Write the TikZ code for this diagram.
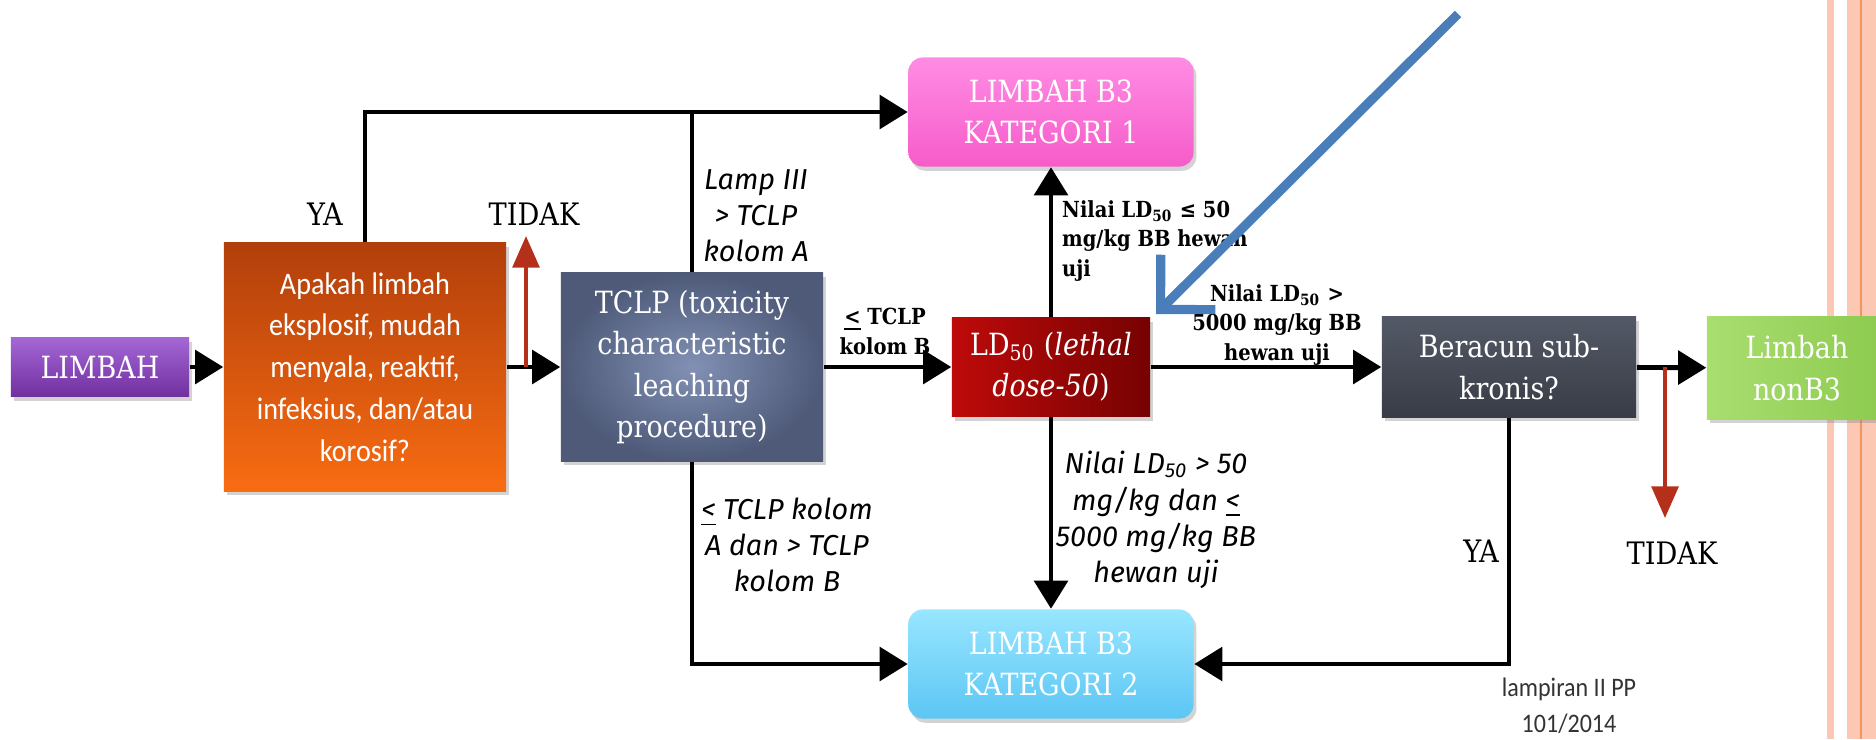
\documentclass[tikz,border=0pt]{standalone}
\usepackage{fontspec}
\usetikzlibrary{arrows.meta,shadows,positioning}

\newfontfamily\boxfont{DejaVu Serif}[FakeStretch=0.88]
\newfontfamily\calfont{Carlito}[FakeStretch=0.9]
\newfontfamily\handfont{Fira Sans}

\definecolor{limPurple}{HTML}{7030A0}
\definecolor{limPurpleLt}{HTML}{A566D6}
\definecolor{askDark}{HTML}{B23F0B}
\definecolor{askLight}{HTML}{F86C12}
\definecolor{tclpOut}{HTML}{4E5A78}
\definecolor{tclpIn}{HTML}{8190B4}
\definecolor{ldLeft}{HTML}{BE0A0A}
\definecolor{ldRight}{HTML}{760202}
\definecolor{katPink}{HTML}{F65CC9}
\definecolor{katPinkLt}{HTML}{FF8CE4}
\definecolor{katBlue}{HTML}{5CC6F4}
\definecolor{katBlueLt}{HTML}{98E6FF}
\definecolor{subGray}{HTML}{383C46}
\definecolor{subGrayLt}{HTML}{535966}
\definecolor{nonGreen}{HTML}{8CCA4E}
\definecolor{nonGreenLt}{HTML}{A9DE70}
\definecolor{noRed}{HTML}{B5301B}
\definecolor{ptrBlue}{HTML}{4A7EBB}
\definecolor{stripeFill}{HTML}{FCC8B3}
\definecolor{stripeLine}{HTML}{F2945E}

\tikzset{
    fc box/.style={align=center, text=white, inner sep=2pt,
                   font=\boxfont\fontsize{8.7}{11.8}\selectfont,
                   drop shadow={opacity=0.35, shadow xshift=0.8pt,
                                shadow yshift=-1.2pt}},
    limbah box/.style={fc box, minimum width=1.78cm, minimum height=0.59cm,
                       top color=limPurpleLt, bottom color=limPurple},
    ask box/.style={fc box, minimum width=2.82cm, minimum height=2.48cm,
                    top color=askDark, bottom color=askLight,
                    font=\calfont\fontsize{8.9}{11.9}\selectfont},
    tclp box/.style={fc box, minimum width=2.62cm, minimum height=1.88cm,
                     inner color=tclpIn, outer color=tclpOut},
    ld box/.style={fc box, minimum width=1.98cm, minimum height=0.99cm,
                   left color=ldLeft, right color=ldRight},
    kat box/.style={fc box, minimum width=2.85cm, minimum height=1.09cm,
                    rounded corners=4pt},
    sub box/.style={fc box, minimum width=2.54cm, minimum height=1.00cm,
                    top color=subGrayLt, bottom color=subGray},
    non box/.style={fc box, minimum width=1.80cm, minimum height=1.02cm,
                    left color=nonGreenLt, right color=nonGreen},
    fc arrow/.style={-{Triangle[length=8pt, width=9.5pt]}, line width=1.4pt},
    fc line/.style={line width=1.4pt},
    fc no/.style={-{Triangle[length=9pt, width=7.6pt]}, line width=1.1pt,
                  noRed},
    fc pointer/.style={-{Straight Barb[length=11pt, width=22pt]},
                       line width=2.6pt, ptrBlue},
    fc yn/.style={font=\boxfont\fontsize{8.8}{10}\selectfont},
    fc cond/.style={align=center, inner sep=1pt,
                    font=\boxfont\bfseries\fontsize{6.3}{8.5}\selectfont},
    fc hand/.style={align=center, inner sep=1pt,
                    font=\handfont\itshape\fontsize{8.2}{10.3}\selectfont},
    fc note/.style={align=center, inner sep=0pt, text=black!80,
                    font=\calfont\fontsize{7.6}{10.2}\selectfont},
}

\begin{document}
\begin{tikzpicture}[x=0.01cm, y=-0.01cm]
    \useasboundingbox (0,0) rectangle (1876,739);
    % Slide border stripes
    \fill[stripeFill] (1827,0) rectangle (1834,739);
    \fill[stripeFill] (1847,0) rectangle (1876,739);
    \draw[stripeLine, line width=0.6pt] (1861,0) -- (1861,739);

    % Main row
    \node[limbah box] (limbah) at (100, 367) {LIMBAH};
    \node[ask box] (ask) at (365, 367)
          {Apakah limbah\\eksplosif, mudah\\menyala, reaktif,\\infeksius, dan/atau\\korosif?};
    \node[tclp box] (tclp) at (692, 367)
          {TCLP (toxicity\\characteristic\\leaching\\procedure)};
    \node[ld box] (ld) at (1051, 367)
          {LD\textsubscript{50} (\textit{lethal}\\\textit{dose-50})};
    \node[sub box] (sub) at (1509, 367) {Beracun sub-\\kronis?};
    \node[non box] (non) at (1797, 368) {Limbah\\nonB3};
    % Category boxes
    \node[kat box, top color=katPinkLt, bottom color=katPink] (kat1)
          at (1051, 112) {LIMBAH B3\\KATEGORI 1};
    \node[kat box, top color=katBlueLt, bottom color=katBlue] (kat2)
          at (1051, 664) {LIMBAH B3\\KATEGORI 2};

    % Connectors
    \draw[fc arrow] (limbah) -- (ask);
    \draw[fc arrow] (ask.north) |- (kat1);
    \draw[fc arrow] (ask) -- (tclp);
    \draw[fc line] (tclp.north) -- (tclp.north |- kat1.west);
    \draw[fc arrow] (tclp) -- (ld);
    \draw[fc arrow] (tclp.south) |- (kat2);
    \draw[fc arrow] (ld) -- (kat1);
    \draw[fc arrow] (ld) -- (kat2);
    \draw[fc arrow] (ld) -- (sub);
    \draw[fc arrow] (sub) -- (non);
    \draw[fc arrow] (sub.south) |- (kat2);

    % TIDAK branches
    \coordinate (no1 base) at (526, 367);
    \coordinate (no1 tip) at (526, 236);
    \draw[fc no] (no1 base) -- (no1 tip);
    \coordinate (no2 base) at (1665, 367);
    \coordinate (no2 tip) at (1665, 518);
    \draw[fc no] (no2 base) -- (no2 tip);

    % Labels
    \node[fc yn] (ya1) at (325, 214) {YA};
    \node[fc yn] (tidak1) at (534, 214) {TIDAK};
    \node[fc hand] (lampA) at (756, 216) {Lamp III\\> TCLP\\kolom A};
    \node[fc cond] (kolB) at (885, 331) {\underline{<} TCLP\\kolom B};
    \node[fc cond, align=left, anchor=west] (le50) at (1058, 241)
          {Nilai LD\textsubscript{50} ≤ 50\\mg/kg BB hewan\\uji};
    \node[fc cond] (gt5000) at (1277, 325)
          {Nilai LD\textsubscript{50} >\\5000 mg/kg BB\\hewan uji};
    \node[fc hand] (mid50) at (1156, 520)
          {Nilai LD\textsubscript{50} > 50\\mg/kg dan \underline{<}\\5000 mg/kg BB\\hewan uji};
    \node[fc hand] (kolAB) at (787, 545)
          {\underline{<} TCLP kolom\\A dan > TCLP\\kolom B};
    \node[fc yn] (ya2) at (1481, 551) {YA};
    \node[fc yn] (tidak2) at (1672, 553) {TIDAK};
    \node[fc note] (src) at (1569, 706) {lampiran II PP\\101/2014};

    % Pointer
    \coordinate (ptr start) at (1458, 14);
    \coordinate (ptr tip) at (1156, 314);
    \draw[fc pointer] (ptr start) -- (ptr tip);
\end{tikzpicture}
\end{document}
